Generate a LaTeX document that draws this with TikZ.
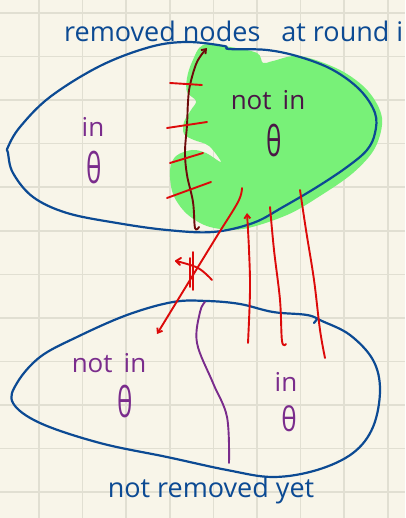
\documentclass[tikz,border=0pt]{standalone}
\usepackage{fontspec}
\setmainfont{Open Sans}
\usetikzlibrary{arrows.meta}
\definecolor{paper}{HTML}{F8F5E9}
\definecolor{gridc}{HTML}{E1DFD2}
\definecolor{bluepen}{HTML}{0C4A93}
\definecolor{redpen}{HTML}{DC0A0A}
\definecolor{darkredpen}{HTML}{6E0A0A}
\definecolor{purplepen}{HTML}{7A2C8C}
\definecolor{darkpurple}{HTML}{4A1546}
\definecolor{greenfill}{HTML}{78F178}
\tikzset{
  blueline/.style={draw=bluepen, line width=2.2pt, line cap=round, line join=round},
  redline/.style={draw=redpen, line width=1.9pt, line cap=round, line join=round},
  darkredline/.style={draw=darkredpen, line width=1.9pt, line cap=round, line join=round},
  purpleline/.style={draw=purplepen, line width=1.9pt, line cap=round, line join=round},
  hand/.style={inner sep=0pt, font=\fontsize{26}{26}\selectfont},
  thetalbl/.style={inner sep=0pt, font=\fontsize{42}{42}\selectfont},
  barb/.style={-{Straight Barb[length=4pt,width=6pt]}},
}
\begin{document}
\begin{tikzpicture}[x=1pt,y=-1pt]
\useasboundingbox (0,0) rectangle (405,518);
\fill[paper] (0,0) rectangle (405,518);
% grid
\foreach \gx in {0,...,8} {\draw[gridc, line width=1.5pt] ({39+43.6*\gx},0) -- ({39+43.6*\gx},518);}
\foreach \gy in {0,...,11} {\draw[gridc, line width=1.5pt] (0,{13+43.55*\gy}) -- (405,{13+43.55*\gy});}

% green blob
\fill[greenfill] plot[smooth cycle, tension=0.55] coordinates {
 (203,45) (230,47) (257,53) (263,63) (273,61) (300,56) (340,70) (368,91) (382,118)
 (375,148) (353,173) (320,196) (287,215) (243,229) (210,227) (187,214) (173,194)
 (170,170) (176,156) (192,150) (206,153) (221,162) (209,146) (194,140) (184,134)
 (184,122) (191,110) (196,101) (187,92) (187,78) (192,62)};

% top ellipse
\draw[blueline] plot[smooth cycle, tension=0.6] coordinates {
 (8,147) (20,127) (50,97) (100,66) (150,47) (187,42) (224,46) (229,49) (267,50) (300,57)
 (333,70) (360,90) (375,113) (375,133) (367,150) (347,167) (317,187) (283,207)
 (253,223) (213,232) (167,230) (117,223) (67,213) (33,197) (13,173) (8,153)};

% bottom ellipse
\draw[blueline] plot[smooth cycle, tension=0.6] coordinates {
 (173,302) (207,301) (240,304) (273,312) (307,315) (322,321) (350,335) (373,360)
 (380,390) (373,427) (353,453) (317,470) (273,477) (227,470) (167,457) (100,443)
 (40,423) (13,403) (17,383) (40,357) (77,337) (127,315)};
\draw[blueline] (314,323) -- (318,318);

% dark red arrow (boundary)
\coordinate (drb) at (199,227);
\coordinate (drt) at (207,48);
\draw[darkredline, barb] plot[smooth, tension=0.6] coordinates {
 (drb) (195,228) (193,202) (187,175) (185,152) (187,125) (188,102) (190,85) (197,62) (drt)};

% red ticks
\draw[redline] (170,83) -- (202,85);
\draw[redline] (167,128) -- (207,122);
\draw[redline] (170,163) -- (203,153);
\draw[redline] (167,198) -- (211,182);

% red lines to the lower set
\draw[redline, barb] plot[smooth, tension=0.6] coordinates {(242,188) (238,202) (217,236) (190,280) (157,334)};
\draw[redline, barb] plot[smooth, tension=0.6] coordinates {(248,343) (250,290) (249,250) (247,213)};
\draw[redline] plot[smooth, tension=0.6] coordinates {(270,207) (274,250) (280,300) (282,341) (286,344)};
\draw[redline] plot[smooth, tension=0.6] coordinates {(300,190) (306,230) (314,280) (320,330) (325,358)};
% cross mark
\draw[redline] (193,252) -- (193,290);
\draw[redline] (190,258) -- (190,287);
\draw[redline] plot[smooth, tension=0.6] coordinates {(176,261) (198,268) (212,280)};
\draw[redline] (176,261) -- (181,258);
\draw[redline] (176,261) -- (180,265);

% purple curve
\draw[purpleline] plot[smooth, tension=0.6] coordinates {(205,302) (200,312) (197,343) (213,383) (227,417) (229,463)};

% texts
\node[hand, text=bluepen, anchor=base west, font=\fontsize{27}{27}\selectfont] (title) at (64,42) {removed nodes\ \ \ at round i};
\node[hand, text=purplepen, anchor=base] (in1) at (93,137) {in};
\node[thetalbl, text=purplepen, xscale=0.62] (th1) at (94,168) {θ};
\node[hand, text=darkpurple, anchor=base] (notin1) at (268,110) {not\ \,in};
\node[thetalbl, text=darkpurple, xscale=0.62] (th2) at (274,141) {θ};
\node[hand, text=purplepen, anchor=base] (notin2) at (109,372) {not\ \,in};
\node[thetalbl, text=purplepen, xscale=0.62] (th3) at (125,402) {θ};
\node[hand, text=purplepen, anchor=base] (in2) at (286,391) {in};
\node[thetalbl, text=purplepen, xscale=0.62, yscale=0.8] (th4) at (289,419) {θ};
\node[hand, text=bluepen, anchor=base, font=\fontsize{27}{27}\selectfont] (nry) at (211,497) {not removed yet};
\end{tikzpicture}
\end{document}
